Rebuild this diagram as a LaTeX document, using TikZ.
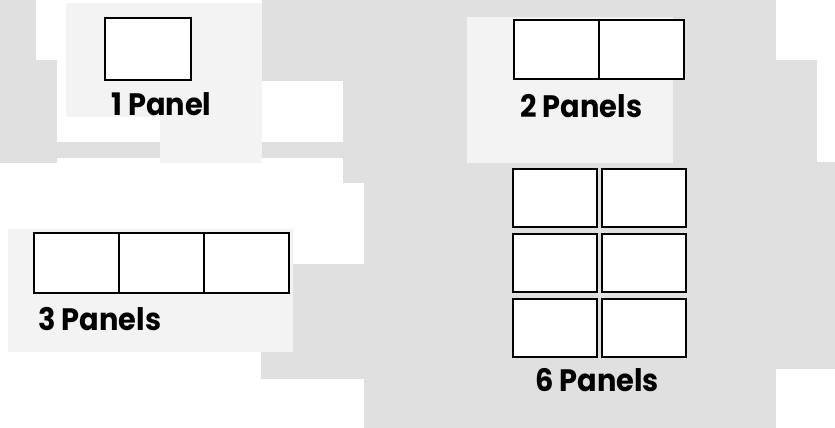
\documentclass[tikz,border=0pt]{standalone}
\usepackage{fontspec}
\setmainfont{Poppins}[FakeStretch=0.93]
\usepackage{xcolor}
\definecolor{fondoGris}{RGB}{224,224,224}
\definecolor{fondoClaro}{RGB}{243,243,243}
\usepackage{tikz}
\usetikzlibrary{positioning}

\begin{document}
\begin{tikzpicture}[
  x=1pt, y=-1pt,
  node distance=0pt and 0pt,
  panel/.style={rectangle, draw=black, fill=white, line width=2pt, outer sep=0pt,
                minimum width=85pt, minimum height=60pt, inner sep=0pt},
  cell/.style={panel, minimum width=84pt, minimum height=58pt},
  lbl/.style={anchor=base west, inner sep=0pt, font=\fontsize{31}{33}\selectfont\bfseries}
]
  % Fondo (papel escaneado)
  \fill[fondoGris] (0,0) rectangle (835,428);
  \useasboundingbox (0,0) rectangle (835,428);
  \fill[white] (36,0) rectangle (262,3);
  \fill[white] (36,0) rectangle (66,60);
  \fill[white] (57,60) rectangle (66,142);
  \fill[white] (57,117) rectangle (160,142);
  \fill[white] (262,81) rectangle (343,142);
  \fill[white] (0,163) rectangle (57,229);
  \fill[white] (57,158) rectangle (343,229);
  \fill[white] (343,183) rectangle (364,229);
  \fill[white] (293,214) rectangle (364,264);
  \fill[white] (0,229) rectangle (8,428);
  \fill[white] (0,352) rectangle (261,428);
  \fill[white] (261,379) rectangle (364,428);
  \fill[white] (776,0) rectangle (835,60);
  \fill[white] (817,60) rectangle (835,162);
  \fill[white] (776,369) rectangle (835,428);
  \fill[fondoClaro] (66,3) rectangle (262,117);
  \fill[fondoClaro] (160,117) rectangle (262,163);
  \fill[fondoClaro] (8,229) rectangle (293,352);
  \fill[fondoClaro] (467,17) rectangle (673,163);

  % 1 panel
  \node[panel, minimum width=86pt, minimum height=62pt] (p1) at (148,49) {};
  \node[lbl] (l1) at (111,115) {1 Panel};

  % 2 panels
  \node[panel, minimum height=59pt] (p2a) at (556.5,49.5) {};
  \node[panel, minimum height=59pt, right=of p2a] (p2b) {};
  \node[lbl] (l2) at (520,117) {2 Panels};

  % 3 panels
  \node[panel] (p3a) at (76.5,263) {};
  \node[panel, right=of p3a] (p3b) {};
  \node[panel, right=of p3b] (p3c) {};
  \node[lbl] (l3) at (38,330) {3 Panels};

  % 6 panels
  \node[cell] (p6a) at (555,198) {};
  \node[cell, right=5pt of p6a] (p6b) {};
  \node[cell, below=7pt of p6a] (p6c) {};
  \node[cell, right=5pt of p6c] (p6d) {};
  \node[cell, below=7pt of p6c] (p6e) {};
  \node[cell, right=5pt of p6e] (p6f) {};
  \node[lbl] (l6) at (535,391) {6 Panels};
\end{tikzpicture}
\end{document}
